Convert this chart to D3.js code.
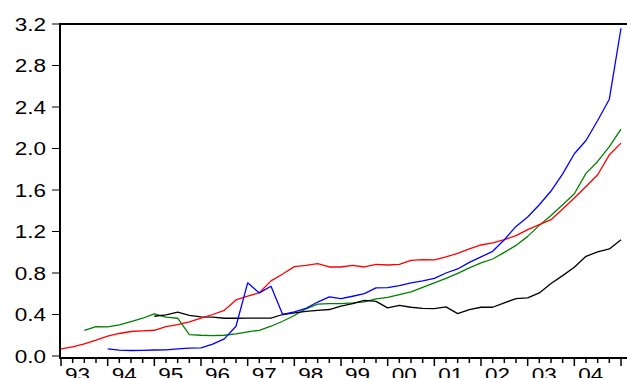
<!DOCTYPE html>
<html>
<head>
<meta charset="utf-8">
<script src="https://cdn.jsdelivr.net/npm/d3@7"></script>
<style>
  html, body { margin: 0; padding: 0; background: #fff; }
  svg { display: block; }
  text { font-family: "Liberation Sans", Arial, sans-serif; }
</style>
</head>
<body>
<svg id="chart" width="627" height="378"></svg>
<script>
// Quarterly observations, 1993Q1 .. 2005Q1 (49 periods)
const nPeriods = 49;
const yearLabels = ["93","94","95","96","97","98","99","00","01","02","03","04"];
const yTicks = [0.0, 0.4, 0.8, 1.2, 1.6, 2.0, 2.4, 2.8, 3.2];

const seriesRed = [
  0.069,0.088,0.117,0.152,0.191,0.217,0.236,0.242,0.248,0.284,0.303,0.330,
  0.366,0.400,0.440,0.540,0.576,0.610,0.724,0.790,0.861,0.874,0.890,0.858,
  0.858,0.874,0.858,0.884,0.877,0.884,0.922,0.929,0.926,0.955,0.990,1.032,
  1.070,1.090,1.121,1.160,1.218,1.266,1.314,1.417,1.523,1.634,1.747,1.939,2.052
];
const seriesBlue = [
  null,null,null,null,0.069,0.056,0.053,0.055,0.058,0.060,0.069,0.075,
  0.078,0.114,0.165,0.287,0.705,0.608,0.672,0.400,0.425,0.460,0.520,0.570,
  0.553,0.576,0.601,0.656,0.659,0.678,0.705,0.724,0.749,0.800,0.839,0.903,
  0.955,1.009,1.121,1.249,1.340,1.458,1.590,1.756,1.949,2.077,2.270,2.475,3.159
];
const seriesGreen = [
  null,null,0.248,0.284,0.281,0.300,0.332,0.364,0.406,0.374,0.364,0.207,
  0.200,0.197,0.200,0.213,0.233,0.248,0.287,0.335,0.390,0.455,0.500,0.505,
  0.505,0.512,0.522,0.550,0.566,0.592,0.618,0.662,0.705,0.749,0.797,0.849,
  0.897,0.935,0.999,1.066,1.153,1.259,1.355,1.458,1.564,1.760,1.875,2.019,2.186
];
const seriesBlack = [
  null,null,null,null,null,null,null,null,0.383,0.396,0.422,0.392,
  0.378,0.374,0.364,0.364,0.366,0.366,0.366,0.400,0.415,0.430,0.440,0.448,
  0.480,0.505,0.537,0.527,0.464,0.489,0.470,0.460,0.457,0.473,0.409,0.448,
  0.470,0.470,0.512,0.553,0.560,0.608,0.698,0.775,0.855,0.961,1.003,1.032,1.121
];

const series = [
  { values: seriesGreen, color: "#008000" },
  { values: seriesBlack, color: "#000000" },
  { values: seriesRed,   color: "#FF0000" },
  { values: seriesBlue,  color: "#0000FF" }
];

const svg = d3.select("#chart");
const frameLeft = 60, frameRight = 627, frameTop = 24, frameBottom = 358;

const x = d3.scaleLinear().domain([0, nPeriods - 1]).range([61, 621]);
const y = d3.scaleLinear().domain([0, 3.2]).range([356, 24]);

// series lines
const line = d3.line()
  .defined(d => d != null)
  .x((d, i) => x(i))
  .y(d => y(d));

svg.append("g").selectAll("path")
  .data(series)
  .join("path")
  .attr("fill", "none")
  .attr("stroke", s => s.color)
  .attr("stroke-width", 1.3)
  .attr("stroke-linejoin", "round")
  .attr("d", s => line(s.values));

// frame: top border, left axis, bottom axis
svg.append("line").attr("x1", frameLeft).attr("x2", frameRight).attr("y1", frameTop).attr("y2", frameTop)
  .attr("stroke", "#000").attr("stroke-width", 2);
svg.append("line").attr("x1", frameLeft).attr("x2", frameLeft).attr("y1", frameTop - 1).attr("y2", frameBottom + 1)
  .attr("stroke", "#000").attr("stroke-width", 2);
svg.append("line").attr("x1", frameLeft).attr("x2", frameRight).attr("y1", frameBottom).attr("y2", frameBottom)
  .attr("stroke", "#000").attr("stroke-width", 2);

// left axis ticks and labels
const yAxis = svg.append("g");
yAxis.selectAll("line")
  .data(yTicks)
  .join("line")
  .attr("x1", 52).attr("x2", frameLeft)
  .attr("y1", d => y(d)).attr("y2", d => y(d))
  .attr("stroke", "#000").attr("stroke-width", 1);
yAxis.selectAll("text")
  .data(yTicks)
  .join("text")
  .attr("transform", d => `translate(46,${y(d) + 6.5}) scale(1.25,1)`)
  .attr("text-anchor", "end")
  .attr("font-size", 18)
  .attr("fill", "#000")
  .text(d => d.toFixed(1));

// bottom axis: quarterly ticks, longer at each year
const quarters = d3.range(nPeriods);
svg.append("g").selectAll("line")
  .data(quarters)
  .join("line")
  .attr("x1", d => x(d)).attr("x2", d => x(d))
  .attr("y1", frameBottom)
  .attr("y2", d => d % 4 === 0 ? frameBottom + 8 : frameBottom + 5)
  .attr("stroke", "#000").attr("stroke-width", 1.5);

svg.append("g").selectAll("text")
  .data(yearLabels)
  .join("text")
  .attr("transform", (d, i) => `translate(${x(i * 4) + 16.5},381) scale(1.25,1)`)
  .attr("text-anchor", "middle")
  .attr("font-size", 18)
  .attr("fill", "#000")
  .text(d => d);
</script>
</body>
</html>
